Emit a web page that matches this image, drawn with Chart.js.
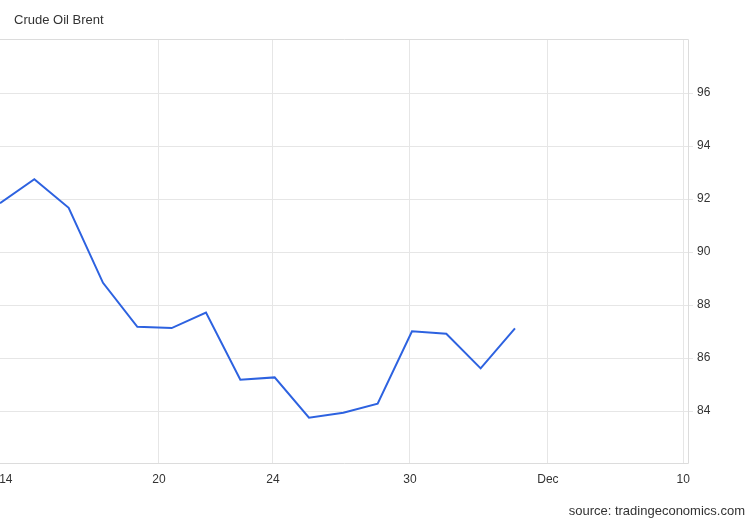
<!DOCTYPE html>
<html>
<head>
<meta charset="utf-8">
<script src="https://cdn.jsdelivr.net/npm/chart.js@4"></script>
<style>
    html, body { margin: 0; padding: 0; background: #fff; }
    #wrap { position: relative; width: 750px; height: 520px; font-family: "Liberation Sans", Arial, sans-serif; }
    #chart { position: absolute; left: 0; top: 0; }
    #title { position: absolute; left: 14px; top: 12px; font-size: 13px; color: #333; }
    #source { position: absolute; right: 5px; top: 503px; font-size: 13px; color: #333; }
</style>
</head>
<body>
<div id="wrap">
    <canvas id="chart" width="750" height="520"></canvas>
    <div id="title">Crude Oil Brent</div>
    <div id="source">source: tradingeconomics.com</div>
</div>
<script>
// Brent daily closes, one per trading day (Nov 14 .. Dec 5)
const prices = [91.84, 92.75, 91.67, 88.84, 87.18, 87.13, 87.72, 85.18,
                85.27, 83.75, 83.94, 84.28, 87.01, 86.92, 85.61, 87.12];

// x axis labels and where they sit, in trading-day units
const xTickLabels = ['14', '20', '24', '30', 'Dec', '10'];
const xTickValues = [0.17, 4.63, 7.95, 11.94, 15.96, 19.9];

const yTickValues = [84, 86, 88, 90, 92, 94, 96];

const gridColor = '#e6e6e6';
const textColor = '#333';

// light frame round the plot area
const framePlugin = {
    id: 'frame',
    afterDraw(chart) {
        const { ctx, chartArea: a } = chart;
        ctx.save();
        ctx.strokeStyle = '#dcdcdc';
        ctx.lineWidth = 1;
        ctx.beginPath();
        ctx.moveTo(a.left, a.top + 0.5);
        ctx.lineTo(a.right + 0.5, a.top + 0.5);
        ctx.lineTo(a.right + 0.5, a.bottom + 0.5);
        ctx.lineTo(a.left, a.bottom + 0.5);
        ctx.stroke();
        ctx.restore();
    }
};

new Chart(document.getElementById('chart'), {
    type: 'line',
    data: {
        datasets: [{
            data: prices.map((p, i) => ({ x: i, y: p })),
            borderColor: '#2d62e0',
            borderWidth: 2,
            pointRadius: 0,
            tension: 0,
            fill: false
        }]
    },
    options: {
        responsive: false,
        devicePixelRatio: 1,
        animation: false,
        layout: { padding: { top: 39, left: 0, right: 0, bottom: 0 } },
        plugins: {
            legend: { display: false },
            tooltip: { enabled: false }
        },
        scales: {
            x: {
                type: 'linear',
                min: 0,
                max: 20.04,
                afterBuildTicks: scale => {
                    scale.ticks = xTickValues.map(v => ({ value: v }));
                },
                afterFit: scale => {
                    scale.height = 57;
                    // the plot runs right to the left edge, as in the original
                    scale.paddingLeft = 0;
                    scale.paddingRight = 0;
                },
                border: { display: false },
                grid: {
                    drawTicks: false,
                    color: ctx => ctx.index === 0 ? 'rgba(0,0,0,0)' : gridColor
                },
                ticks: {
                    autoSkip: false,
                    maxRotation: 0,
                    padding: 9,
                    color: textColor,
                    font: { family: 'Liberation Sans', size: 12 },
                    callback: (value, index) => xTickLabels[index]
                }
            },
            y: {
                position: 'right',
                min: 82.04,
                max: 98.04,
                afterBuildTicks: scale => {
                    scale.ticks = yTickValues.map(v => ({ value: v }));
                },
                afterFit: scale => { scale.width = 62; },
                border: { display: false },
                grid: {
                    color: gridColor,
                    tickLength: 5
                },
                ticks: {
                    padding: 4,
                    color: textColor,
                    font: { family: 'Liberation Sans', size: 12 }
                }
            }
        }
    },
    plugins: [framePlugin]
});
</script>
</body>
</html>
